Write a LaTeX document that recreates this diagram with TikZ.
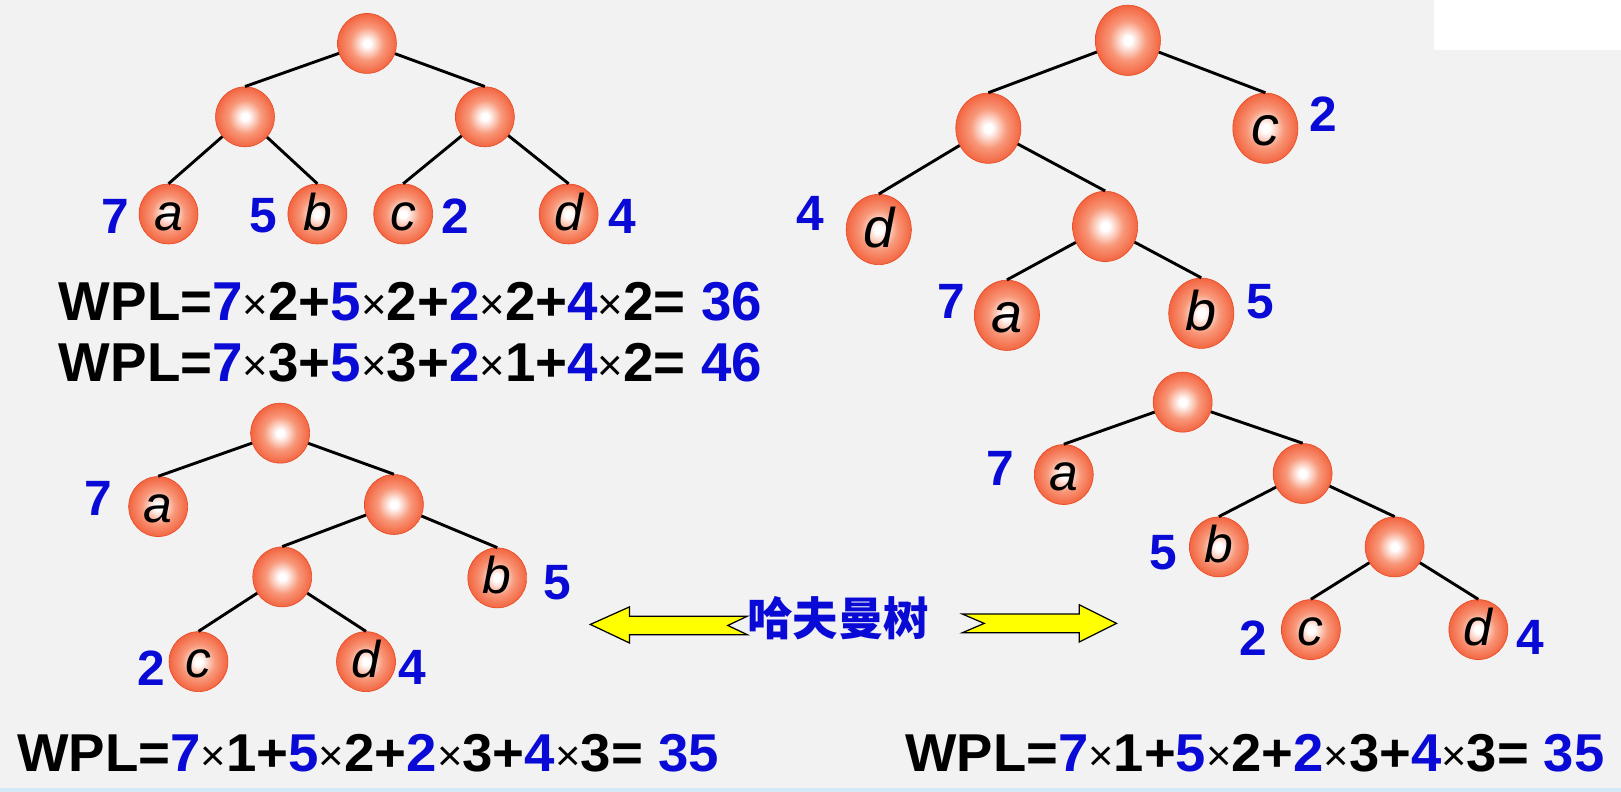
\documentclass[tikz,border=0pt]{standalone}
\usepackage{fontspec}
\setmainfont{Liberation Sans}
\newfontfamily\cjk{Noto Sans CJK SC}
\usetikzlibrary{shapes.geometric}
\definecolor{bg}{HTML}{F2F2F2}
\definecolor{wblue}{RGB}{10,10,215}
\definecolor{ballrim}{HTML}{E84A25}
\definecolor{ballout}{HTML}{F25C36}
\definecolor{ballmid}{HTML}{F8987A}
\definecolor{stripblue}{HTML}{D3E9F7}
\definecolor{arrowyellow}{HTML}{FFFF00}
\pgfdeclareradialshading{ballshade}{\pgfpoint{0bp}{0bp}}{color(0bp)=(white); color(3bp)=(white); color(14bp)=(ballmid); color(27bp)=(ballout); color(50bp)=(ballrim)}
\newcommand\tms{{\fontsize{40pt}{40pt}\selectfont\mdseries\raisebox{1pt}{×}}}
\newcommand\bl[1]{\textcolor{wblue}{#1}}
\newcommand\wplline[5]{WPL=\bl{7}\tms#1+\bl{5}\tms#2+\bl{2}\tms#3+\bl{4}\tms#4= \bl{#5}}
\tikzset{
  ball/.style={ellipse, minimum width=57pt, minimum height=58pt, inner sep=0pt,
    shading=ballshade, draw=ballrim, line width=0.6pt,
    font=\fontsize{50pt}{50pt}\selectfont\itshape, text height=31pt, text depth=0pt},
  bigball/.style={ball, minimum width=63pt, minimum height=68pt,
    font=\fontsize{54pt}{54pt}\selectfont\itshape, text height=34pt},
  lbl/.style={text=wblue, font=\fontsize{48pt}{48pt}\selectfont\bfseries, inner sep=0pt},
  edge/.style={draw=black, line width=2.8pt},
  wpl/.style={font=\fontsize{50pt}{50pt}\selectfont\bfseries, inner sep=0pt, anchor=base},
  arrowshape/.style={fill=arrowyellow, draw=black, line width=1.2pt, line join=miter},
}
\begin{document}
\begin{tikzpicture}[x=1pt,y=-1pt]
\useasboundingbox (0,0) rectangle (1568,766);
\fill[bg] (0,0) rectangle (1568,766);
\fill[white] (1387,0) rectangle (1568,48);
\fill[stripblue] (0,762) rectangle (1568,766);

% ---------- top-left tree ----------
\node[ball] (T1r) at (355,42) {};
\node[ball] (T1l) at (237,113) {};
\node[ball] (T1m) at (469,113) {};
\node[ball] (T1a) at (163,207) {a};
\node[ball] (T1b) at (307,207) {b};
\node[ball] (T1c) at (390,207) {c};
\node[ball] (T1d) at (550,207) {d};
\node[lbl] (T1a7) at (112,209) {7};
\node[lbl] (T1b5) at (255,209) {5};
\node[lbl] (T1c2) at (440,209) {2};
\node[lbl] (T1d4) at (602,209) {4};
\draw[edge] (T1r) -- (T1l.north);
\draw[edge] (T1r) -- (T1m.north);
\draw[edge] (T1l) -- (T1a.north);
\draw[edge] (T1l) -- (T1b.north);
\draw[edge] (T1m) -- (T1c.north);
\draw[edge] (T1m) -- (T1d.north);
\node[wpl] (W1) at (397,310) {\resizebox{680pt}{37pt}{\wplline{2}{2}{2}{2}{36}}};
\node[wpl] (W2) at (397,369) {\resizebox{680pt}{37pt}{\wplline{3}{3}{1}{2}{46}}};

% ---------- top-right tree ----------
\node[bigball] (T2r) at (1091,39) {};
\node[bigball] (T2l) at (956,124) {};
\node[bigball] (T2c) at (1224,124) {c};
\node[bigball] (T2d) at (850,222) {d};
\node[bigball] (T2m) at (1069,219) {};
\node[bigball] (T2a) at (974,305) {a};
\node[bigball] (T2b) at (1162,303) {b};
\node[lbl] (T2c2) at (1280,110) {2};
\node[lbl] (T2d4) at (784,206) {4};
\node[lbl] (T2a7) at (920,292) {7};
\node[lbl] (T2b5) at (1219,292) {5};
\draw[edge] (T2r) -- (T2l.north);
\draw[edge] (T2r) -- (T2c.north);
\draw[edge] (T2l) -- (T2d.north);
\draw[edge] (T2l) -- (T2m.north);
\draw[edge] (T2m) -- (T2a.north);
\draw[edge] (T2m) -- (T2b.north);

% ---------- bottom-left tree ----------
\node[ball] (B1r) at (271,419) {};
\node[ball] (B1a) at (153,490) {a};
\node[ball] (B1i) at (381,488) {};
\node[ball] (B1j) at (273,558) {};
\node[ball] (B1b) at (481,559) {b};
\node[ball] (B1c) at (192,640) {c};
\node[ball] (B1d) at (354,640) {d};
\node[lbl] (B1a7) at (95,482) {7};
\node[lbl] (B1b5) at (539,564) {5};
\node[lbl] (B1c2) at (146,646) {2};
\node[lbl] (B1d4) at (399,646) {4};
\draw[edge] (B1r) -- (B1a.north);
\draw[edge] (B1r) -- (B1i.north);
\draw[edge] (B1i) -- (B1j.north);
\draw[edge] (B1i) -- (B1b.north);
\draw[edge] (B1j) -- (B1c.north);
\draw[edge] (B1j) -- (B1d.north);
\node[wpl] (W3) at (356,746) {\resizebox{679pt}{36pt}{\wplline{1}{2}{3}{3}{35}}};

% ---------- bottom-right tree ----------
\node[ball] (B2r) at (1144,389) {};
\node[ball] (B2a) at (1029,459) {a};
\node[ball] (B2i) at (1260,458) {};
\node[ball] (B2b) at (1179,529) {b};
\node[ball] (B2j) at (1349,529) {};
\node[ball] (B2c) at (1268,609) {c};
\node[ball] (B2d) at (1430,609) {d};
\node[lbl] (B2a7) at (968,453) {7};
\node[lbl] (B2b5) at (1125,535) {5};
\node[lbl] (B2c2) at (1212,617) {2};
\node[lbl] (B2d4) at (1480,617) {4};
\draw[edge] (B2r) -- (B2a.north);
\draw[edge] (B2r) -- (B2i.north);
\draw[edge] (B2i) -- (B2b.north);
\draw[edge] (B2i) -- (B2j.north);
\draw[edge] (B2j) -- (B2c.north);
\draw[edge] (B2j) -- (B2d.north);
\node[wpl] (W4) at (1214,746) {\resizebox{676pt}{36pt}{\wplline{1}{2}{3}{3}{35}}};

% ---------- Huffman tree label and arrows ----------
\node[text=wblue, font=\fontsize{44pt}{44pt}\selectfont\cjk\bfseries, inner sep=0pt] (HF) at (811,598) {哈夫曼树};
\draw[arrowshape] (571,604) -- (609,587) -- (609,596) -- (723,596) -- (704,605)
  -- (723,614) -- (609,614) -- (609,622) -- cycle;
\draw[arrowshape] (931,594) -- (952,603) -- (931,612) -- (1044,612) -- (1044,621)
  -- (1080,603) -- (1044,585) -- (1044,594) -- cycle;
\end{tikzpicture}
\end{document}
